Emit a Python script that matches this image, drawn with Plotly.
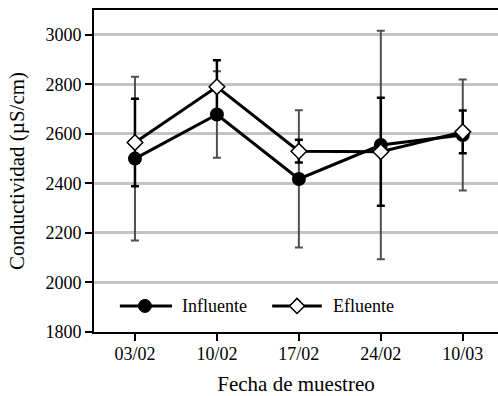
import plotly.graph_objects as go

fechas = ["03/02", "10/02", "17/02", "24/02", "10/03"]
influente = [2500, 2678, 2418, 2555, 2595]
influente_err = [331, 175, 277, 461, 224]
efluente = [2565, 2790, 2530, 2528, 2608]
efluente_err = [177, 107, 46, 218, 86]
y_ticks = [1800, 2000, 2200, 2400, 2600, 2800, 3000]

FONT = "'Liberation Serif', 'Times New Roman', Times, serif"
xs = list(range(len(fechas)))

fig = go.Figure()
fig.add_trace(go.Scatter(
    x=xs, y=influente, mode="lines+markers", name="Influente",
    line=dict(color="black", width=3),
    marker=dict(symbol="circle", size=14, color="black"),
    error_y=dict(type="data", array=influente_err, visible=True,
                 color="#505050", thickness=2, width=4),
    showlegend=False))
fig.add_trace(go.Scatter(
    x=xs, y=efluente, mode="lines+markers", name="Efluente",
    line=dict(color="black", width=3),
    marker=dict(symbol="diamond", size=12, color="white",
                line=dict(color="black", width=1.5)),
    error_y=dict(type="data", array=efluente_err, visible=True,
                 color="black", thickness=2.5, width=4),
    showlegend=False))

# custom legend (paper coordinates)
leg_y = 0.081
shapes = []
annotations = []
for (x0, x1, xm, xt, name, kind) in [
        (0.064, 0.193, 0.126, 0.213, "Influente", "circle"),
        (0.441, 0.564, 0.5025, 0.587, "Efluente", "diamond")]:
    shapes.append(dict(type="line", xref="paper", yref="paper",
                       x0=x0, x1=x1, y0=leg_y, y1=leg_y,
                       line=dict(color="black", width=3)))
    if kind == "circle":
        shapes.append(dict(type="circle", xref="paper", yref="paper",
                           xsizemode="pixel", ysizemode="pixel",
                           xanchor=xm, yanchor=leg_y,
                           x0=-6.5, x1=6.5, y0=-6.5, y1=6.5,
                           fillcolor="black", line=dict(color="black", width=1)))
    else:
        shapes.append(dict(type="path", xref="paper", yref="paper",
                           xsizemode="pixel", ysizemode="pixel",
                           xanchor=xm, yanchor=leg_y,
                           path="M-7.5,0 L0,7.5 L7.5,0 L0,-7.5 Z",
                           fillcolor="white", line=dict(color="black", width=1.5)))
    annotations.append(dict(xref="paper", yref="paper", x=xt, y=leg_y,
                            text=name, showarrow=False, xanchor="left",
                            yanchor="middle",
                            font=dict(family=FONT, size=18, color="black")))

fig.update_layout(
    width=498, height=396,
    margin=dict(l=94, r=0, t=10, b=64),
    plot_bgcolor="white", paper_bgcolor="white",
    shapes=shapes, annotations=annotations,
    font=dict(family=FONT, size=18, color="black"),
    xaxis=dict(
        tickmode="array", tickvals=xs, ticktext=fechas,
        range=[-0.5, 4.43], showgrid=False, zeroline=False,
        showline=True, linecolor="black", linewidth=2, mirror=True,
        ticks="outside", ticklen=7, tickwidth=2, tickcolor="black",
        ticklabelstandoff=-3,
        title=dict(text="Fecha de muestreo",
                   font=dict(family=FONT, size=21, color="black"), standoff=16),
        tickfont=dict(family=FONT, size=18, color="black")),
    yaxis=dict(
        tickmode="array", tickvals=y_ticks,
        range=[1800, 3100], showgrid=True, gridcolor="#c4c4c4", gridwidth=3,
        zeroline=False, showline=True, linecolor="black", linewidth=2,
        ticks="outside", ticklen=7, tickwidth=2, tickcolor="black",
        title=dict(text="Conductividad (µS/cm)",
                   font=dict(family=FONT, size=21, color="black"), standoff=15),
        tickfont=dict(family=FONT, size=18, color="black")),
)

fig.write_html("out.html")
